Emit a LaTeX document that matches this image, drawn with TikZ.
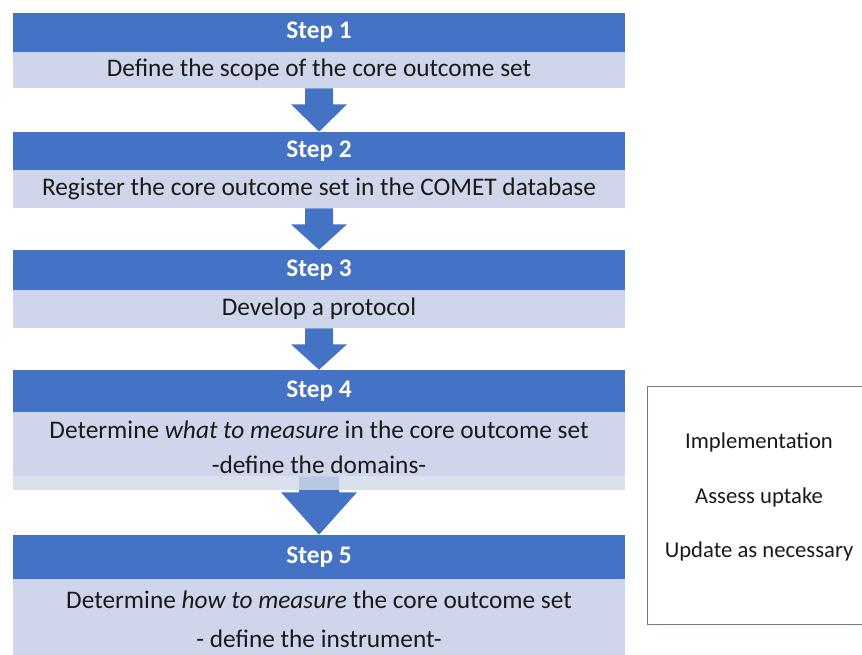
\documentclass[tikz,border=0pt]{standalone}
\usepackage{fontspec}
\setmainfont{Carlito}
\usetikzlibrary{calc}
\definecolor{bleuentete}{HTML}{4472C4}
\definecolor{bleubande}{HTML}{CFD5EA}
\definecolor{bleuclair}{HTML}{E0E4F2}
\definecolor{noirtexte}{HTML}{1A1A1A}
\definecolor{grisbord}{HTML}{6B7894}
\tikzset{
  entete/.style={fill=bleuentete, text=white, font=\fontsize{19}{22}\selectfont\bfseries,
    minimum width=459pt, inner sep=0pt},
  bande/.style={fill=bleubande, text=noirtexte, font=\fontsize{19}{22}\selectfont,
    minimum width=459pt, inner sep=0pt, align=center},
}
% fleche pleine : depart, pointe, demi-tige, demi-tete, longueur tige
\newcommand{\fleche}[5]{%
  \fill[bleuentete] ($(#1)+(-#3,0)$) -- ($(#1)+(#3,0)$) -- ($(#1)+(#3,#5)$)
    -- ($(#1)+(#4,#5)$) -- (#2) -- ($(#1)+(-#4,#5)$) -- ($(#1)+(-#3,#5)$) -- cycle;}
\begin{document}
\begin{tikzpicture}[x=0.75pt, y=-0.75pt]
	\useasboundingbox (0,0) rectangle (862,655);
	% Etapes
	\node[entete, minimum height=29.25pt] (h1) at (319,32.5) {Step 1};
	\node[bande, minimum height=27pt] (b1) at (319,70) {Define the scope of the core outcome set};
	\node[entete, minimum height=28.5pt] (h2) at (319,151) {Step 2};
	\node[bande, minimum height=28.5pt] (b2) at (319,189) {Register the core outcome set in the COMET database};
	\node[entete, minimum height=30pt] (h3) at (319,270) {Step 3};
	\node[bande, minimum height=28.5pt] (b3) at (319,309) {Develop a protocol};
	\node[entete, minimum height=31.5pt] (h4) at (319,391) {Step 4};
	\node[bande, minimum height=58.5pt] (b4) at (319,451) {};
	\node[entete, minimum height=33pt] (h5) at (319,557) {Step 5};
	\node[bande, minimum height=60.75pt, font=\fontsize{19}{29.25}\selectfont] (b5) at (319,619.5)
		{Determine \textit{how to measure} the core outcome set\\- define the instrument-};
	% Fleches
	\fleche{b1.south}{h2.north}{14}{28}{16}
	\fleche{b2.south}{h3.north}{14}{28}{16}
	\fleche{b3.south}{h4.north}{14}{28}{16}
	\coordinate (d4) at ($(b4.south)+(0,-14)$);
	\fleche{d4}{h5.north}{20}{38}{16}
	\fill[bleuclair, opacity=0.75] ($(b4.south west)+(0,-14)$) rectangle (b4.south east);
	\node[bande, fill=none, font=\fontsize{19}{26.5}\selectfont] (t4) at (319,447)
		{Determine \textit{what to measure} in the core outcome set\\-define the domains-};
	% Suivi
	\node[draw=grisbord, line width=0.75pt, minimum width=180pt, minimum height=179pt] (cadre) at (767,505.5) {};
	\node[text=noirtexte, font=\fontsize{17}{41}\selectfont, align=center] (suivi) at (759,497)
		{Implementation\\Assess uptake\\Update as necessary};
\end{tikzpicture}
\end{document}
